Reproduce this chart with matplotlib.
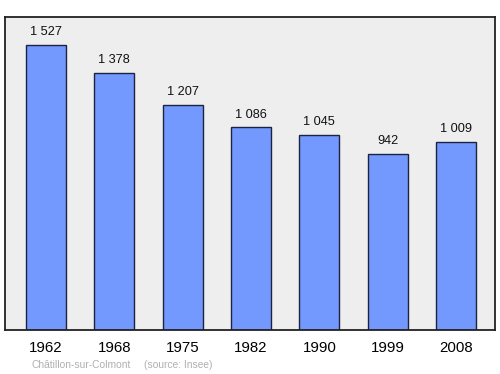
import numpy as np
import matplotlib
matplotlib.use('Agg')
import matplotlib.pyplot as plt

plt.rcParams['font.family'] = ['Liberation Sans', 'DejaVu Sans']

years = ['1962', '1968', '1975', '1982', '1990', '1999', '2008']
population = [1527, 1378, 1207, 1086, 1045, 942, 1009]
labels = ['1 527', '1 378', '1 207', '1 086', '1 045', '942', '1 009']

fig = plt.figure(figsize=(5, 3.74), dpi=100)
ax = fig.add_axes([0.01, 1 - 330 / 374, 0.98, 313 / 374])
ax.set_facecolor('#eeeeee')

x = np.arange(len(years))
ax.bar(x, population, width=0.585, color='#7399ff', edgecolor='#1c2340', linewidth=1.0)
for xi, v, lab in zip(x, population, labels):
    ax.text(xi, v + 68, lab, ha='center', va='center', fontsize=9.2, color='#111111')

ax.set_xlim(-0.6, 6.57)
ax.set_ylim(0, 1677)
ax.set_yticks([])
ax.set_xticks(x)
ax.set_xticklabels(years, fontsize=10.8)
ax.tick_params(axis='x', length=0, pad=8)
for s in ax.spines.values():
    s.set_linewidth(1.3)
    s.set_color('#222222')

fig.text(31 / 500, 1 - 365 / 374, 'Châtillon-sur-Colmont', fontsize=7.4, color='#b0b0b0', va='center')
fig.text(144 / 500, 1 - 365 / 374, '(source: Insee)', fontsize=7.4, color='#b0b0b0', va='center')

fig.savefig('out.png', dpi=100)
